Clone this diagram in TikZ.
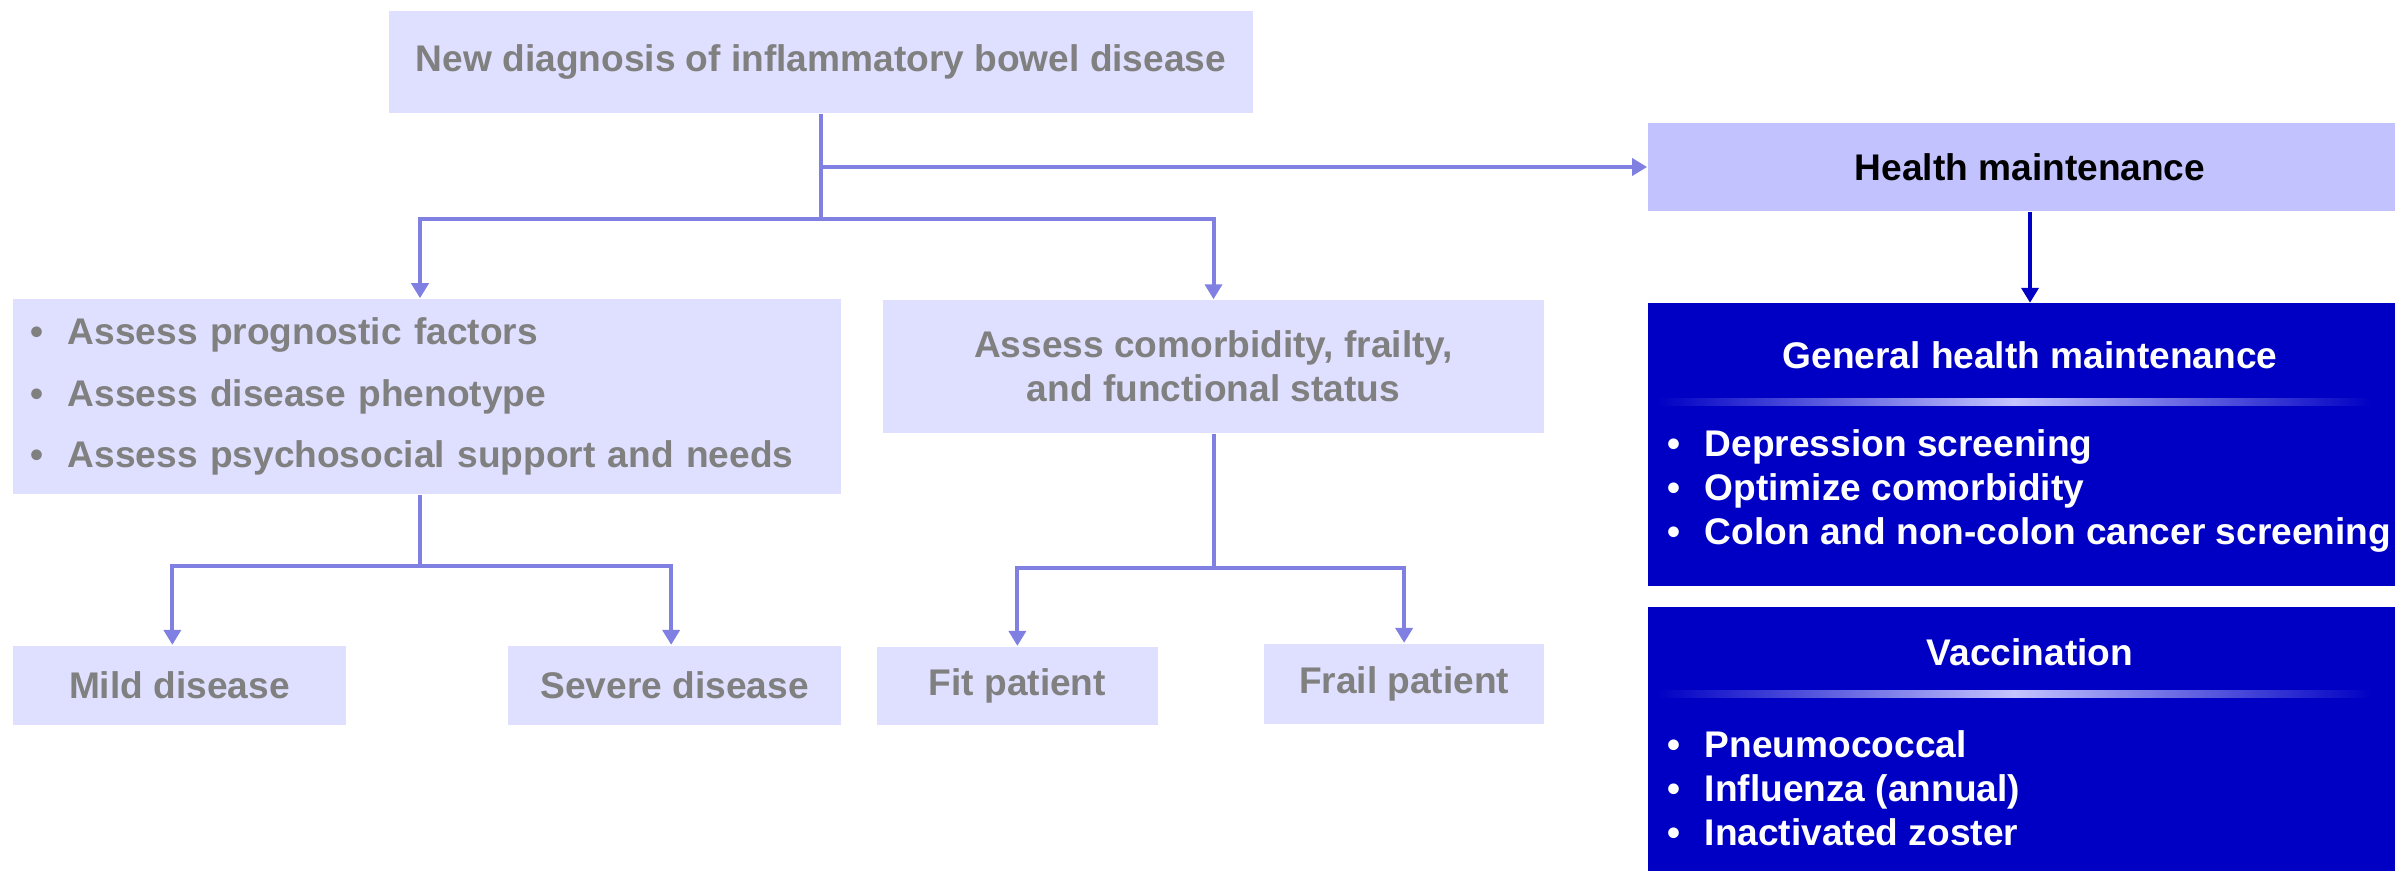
\documentclass[tikz,border=0pt]{standalone}
\usepackage{fontspec}
\setmainfont{Liberation Sans}
\usepackage{xcolor}
\usepackage{tikz}
\usetikzlibrary{positioning,arrows.meta}
\definecolor{boxlav}{HTML}{DFDFFF}
\definecolor{hmlav}{HTML}{C2C2FF}
\definecolor{navyfill}{HTML}{0000C4}
\definecolor{divlav}{HTML}{C4C4FF}
\definecolor{linkline}{HTML}{8080E2}
\definecolor{txtgray}{HTML}{808080}
\newcommand{\bulletmark}{\makebox[0.37cm][l]{\textbullet}}

\begin{document}
\begin{tikzpicture}[x=0.01cm, y=-0.01cm,
    every node/.style={inner sep=0pt, font=\fontsize{10.55}{12.5}\selectfont\bfseries},
    palebox/.style={fill=boxlav, text=txtgray},
    darkbox/.style={fill=navyfill, minimum width=7.64cm},
    link/.style={draw=linkline, line width=1.13pt},
    arrowend/.style={-{Triangle[length=0.15cm, width=0.17cm]}}]
    \useasboundingbox (0,0) rectangle (2395,870);
    \clip (0,0) rectangle (2395,870);

    % Κορυφή
    \node (newdx) [palebox, minimum width=8.64cm, minimum height=1.02cm] at (821,62) {New diagnosis of inflammatory bowel disease};
    \coordinate (split) at (821,219);
    \draw[link] (newdx.south) -- (split);

    % Αριστερός κλάδος
    \node (assess) [palebox, minimum height=1.95cm, inner xsep=0.18cm, text width=7.92cm, align=left] at (427,396.5)
        {\bulletmark Assess prognostic factors\\[5pt] \bulletmark Assess disease phenotype\\[5pt] \bulletmark Assess psychosocial support and needs};
    \node (mild) [palebox, minimum width=3.33cm, minimum height=0.79cm, below=1.5cm of assess.south west, anchor=north west] {Mild disease};
    \node (severe) [palebox, minimum width=3.33cm, minimum height=0.79cm, below=1.5cm of assess.south east, anchor=north east] {Severe disease};
    \draw[link, arrowend] (split) -| ([xshift=-0.07cm]assess.north);
    \coordinate (assessfork) at ([xshift=-0.07cm, yshift=-0.71cm]assess.south);
    \draw[link] ([xshift=-0.07cm]assess.south) -- (assessfork);
    \draw[link, arrowend] (assessfork) -| ([xshift=-0.07cm]mild.north);
    \draw[link, arrowend] (assessfork) -| ([xshift=-0.035cm]severe.north);

    % Μεσαίος κλάδος
    \node (comorb) [palebox, minimum width=6.61cm, minimum height=1.33cm, align=center] at (1213.5,366.5)
        {Assess comorbidity, frailty,\\ and functional status};
    \node (fit) [palebox, minimum width=2.81cm, minimum height=0.78cm, below=2.12cm of comorb.south west, anchor=north west, xshift=-0.06cm] {Fit patient};
    \node (frail) [palebox, minimum width=2.8cm, minimum height=0.8cm, below=2.09cm of comorb.south east, anchor=north east] {Frail patient};
    \draw[link, arrowend] (split) -| (comorb.north);
    \coordinate (comorbfork) at ([yshift=-1.34cm]comorb.south);
    \draw[link] (comorb.south) -- (comorbfork);
    \draw[link, arrowend] (comorbfork) -| (fit.north);
    \draw[link, arrowend] (comorbfork) -| (frail.north);

    % Δεξιά στήλη
    \node (health) [fill=hmlav, text=black, minimum width=7.64cm, minimum height=0.88cm] at (2030,167) {Health maintenance};
    \draw[link, arrowend] (newdx.south |- health.west) -- (health.west);
    \node (general) [darkbox, minimum height=2.82cm, below=0.91cm of health] {};
    \draw[draw=navyfill, line width=1.13pt, arrowend] (health.south) -- (general.north);
    \node (gentitle) [text=white] at (2030,355) {General health maintenance};
    \shade[left color=navyfill, right color=navyfill, middle color=divlav] (1658,398.5) rectangle (2371,405.5);
    \node (genlist) [text=white, anchor=west, align=left] at (1667,491)
        {\bulletmark Depression screening\\ \bulletmark Optimize comorbidity\\ \bulletmark Colon and non-colon cancer screening};

    \node (vacc) [darkbox, minimum height=2.9cm, below=0.2cm of general] {};
    \node (vacctitle) [text=white] at (2030,652) {Vaccination};
    \shade[left color=navyfill, right color=navyfill, middle color=divlav] (1658,690.5) rectangle (2371,697.5);
    \node (vacclist) [text=white, anchor=west, align=left] at (1667,788)
        {\bulletmark Pneumococcal\\ \bulletmark Influenza (annual)\\ \bulletmark Inactivated zoster};
\end{tikzpicture}
\end{document}
